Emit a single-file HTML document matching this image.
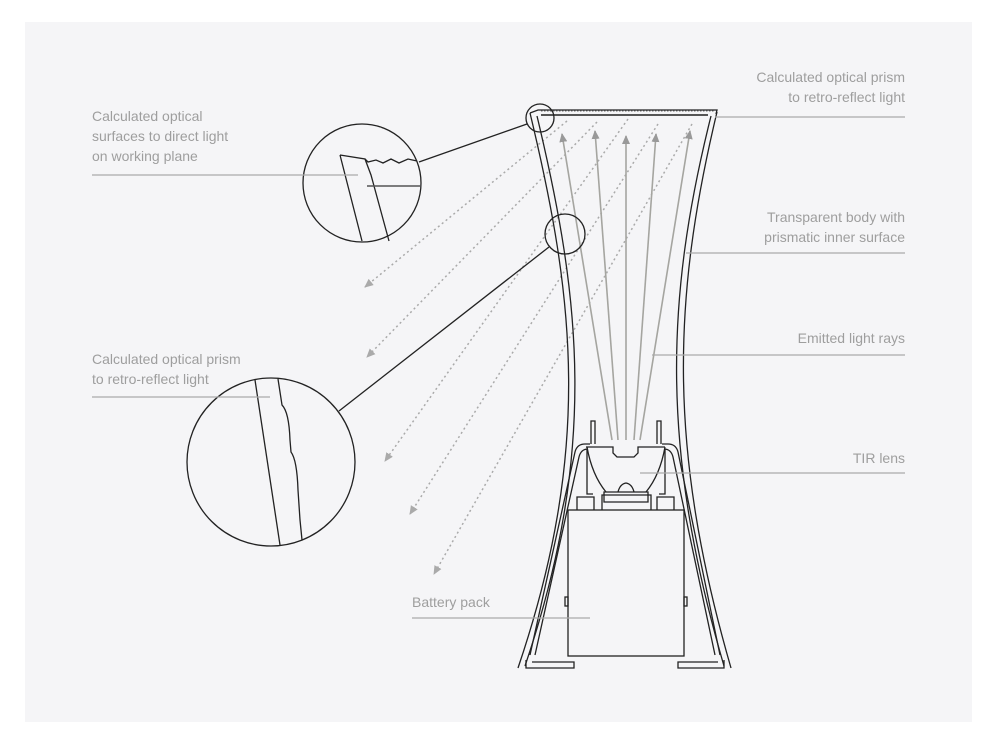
<!DOCTYPE html>
<html><head><meta charset="utf-8"><style>
html,body{margin:0;padding:0;background:#fff;width:1000px;height:736px;overflow:hidden}
svg{display:block}
text{font-family:"Liberation Sans",sans-serif;font-size:14px;fill:#9e9e9e}
</style></head><body>
<svg width="1000" height="736" viewBox="0 0 1000 736" xmlns="http://www.w3.org/2000/svg">
<defs>
<marker id="ag" markerWidth="10" markerHeight="10" refX="8" refY="4" orient="auto" markerUnits="userSpaceOnUse"><path d="M0,0 L9,4 L0,8 Z" fill="#999"/></marker>
<marker id="ad" markerWidth="10" markerHeight="10" refX="8" refY="4" orient="auto" markerUnits="userSpaceOnUse"><path d="M0,0 L9,4 L0,8 Z" fill="#aaa"/></marker>
</defs>
<rect x="25" y="22" width="947" height="700" fill="#f5f5f7"/>

<g stroke="#aaa" stroke-width="1.5" stroke-dasharray="2,3" fill="none">
<line x1="567" y1="121" x2="365" y2="287" marker-end="url(#ad)"/>
<line x1="597" y1="122" x2="367" y2="357" marker-end="url(#ad)"/>
<line x1="628" y1="119" x2="385" y2="461" marker-end="url(#ad)"/>
<line x1="658" y1="124" x2="410" y2="514" marker-end="url(#ad)"/>
<line x1="692" y1="124" x2="434" y2="574" marker-end="url(#ad)"/>
</g>
<g stroke="#a5a5a0" stroke-width="1.6" fill="none">
<line x1="612" y1="440" x2="562" y2="134" marker-end="url(#ag)"/>
<line x1="618" y1="440" x2="595" y2="131" marker-end="url(#ag)"/>
<line x1="626" y1="440" x2="626" y2="136" marker-end="url(#ag)"/>
<line x1="634" y1="440" x2="656" y2="134" marker-end="url(#ag)"/>
<line x1="640" y1="440" x2="690" y2="131" marker-end="url(#ag)"/>
</g>

<g stroke="#222" stroke-width="1.3" fill="none">
<path d="M530,113 C575,300 592,450 518,668"/>
<path d="M537,116 C581,300 598,450 525,666"/>
<path d="M717,112 C672,300 668,450 731,668"/>
<path d="M711,116 C665,300 661,450 724,666"/>
<path d="M530,113 L538,110 L717,110 L716,114"/>
<line x1="541" y1="115" x2="708" y2="115" stroke="#555" stroke-width="2"/>
<line x1="541" y1="111" x2="714" y2="111" stroke="#666" stroke-dasharray="1.5,1.5" stroke-width="1"/>
<path d="M526,660 L526,668 L574,668 L574,662 L532,662"/>
<path d="M724,660 L724,668 L678,668 L678,662 L718,662"/>
<path d="M530,655 L575,452 Q577,444 585,444 L590,444"/>
<path d="M535,655 L579,457 Q581,449 588,449"/>
<path d="M720,655 L678,452 Q676,444 668,444 L662,444"/>
<path d="M715,655 L673,457 Q671,449 664,449"/>
<path d="M591,444 L591,421 L595,421 L595,444"/>
<path d="M657,444 L657,421 L661,421 L661,444"/>
<path d="M586,447 L613,447 L613,453 L617,457 L634,457 L638,453 L638,447 L665,447"/>
<path d="M587,447 Q592,475 606,492 M665,447 Q660,475 646,492"/>
<path d="M587,449 L587,494 L593,494 M665,449 L665,494 L659,494"/>
<path d="M604,492 L648,492 L648,502 L604,502 Z"/>
<path d="M618,492 Q620,484 626,483 Q632,484 634,492"/>
<path d="M577,510 L577,497 L594,497 L594,510 M602,510 L602,495 L651,495 L651,510 M657,510 L657,497 L674,497 L674,510"/>
<rect x="568" y="510" width="116" height="146"/>
<rect x="565" y="597" width="3" height="9"/>
<rect x="684" y="597" width="3" height="9"/>
</g>

<g stroke="#222" stroke-width="1.3" fill="none">
<circle cx="540" cy="118" r="14"/>
<line x1="419" y1="162" x2="527" y2="124"/>
<circle cx="362" cy="183" r="59"/>
<path d="M340,155 L365,159 L371,175 L389,241 M340,155 L362,241"/>
<path d="M365,159 L368,162 L376,160 L383,163 L391,159 L399,163 L408,159 L417,161"/>
<line x1="367" y1="186" x2="420" y2="186" stroke="#555" stroke-width="1.6"/>
<circle cx="565" cy="234" r="20"/>
<line x1="339" y1="411" x2="549" y2="247"/>
<circle cx="271" cy="462" r="84"/>
<path d="M255,380 L280,545"/>
<path d="M278,379 L282,405 Q289,412 290,440 L291,452 Q297,460 298,490 L300,520 L302,540"/>
</g>

<g stroke="#aaa" stroke-width="1.2">
<line x1="92" y1="175" x2="358" y2="175"/>
<line x1="92" y1="397" x2="270" y2="397"/>
<line x1="715" y1="117" x2="905" y2="117"/>
<line x1="686" y1="253" x2="905" y2="253"/>
<line x1="652" y1="355" x2="905" y2="355"/>
<line x1="640" y1="473" x2="905" y2="473"/>
<line x1="412" y1="618" x2="590" y2="618"/>
</g>

<text x="92" y="121">Calculated optical</text>
<text x="92" y="141">surfaces to direct light</text>
<text x="92" y="161">on working plane</text>
<text x="92" y="364">Calculated optical prism</text>
<text x="92" y="384">to retro-reflect light</text>
<g text-anchor="end">
<text x="905" y="82">Calculated optical prism</text>
<text x="905" y="102">to retro-reflect light</text>
<text x="905" y="222">Transparent body with</text>
<text x="905" y="242">prismatic inner surface</text>
<text x="905" y="343">Emitted light rays</text>
<text x="905" y="463">TIR lens</text>
</g>
<text x="412" y="607">Battery pack</text>
</svg>
</body></html>
